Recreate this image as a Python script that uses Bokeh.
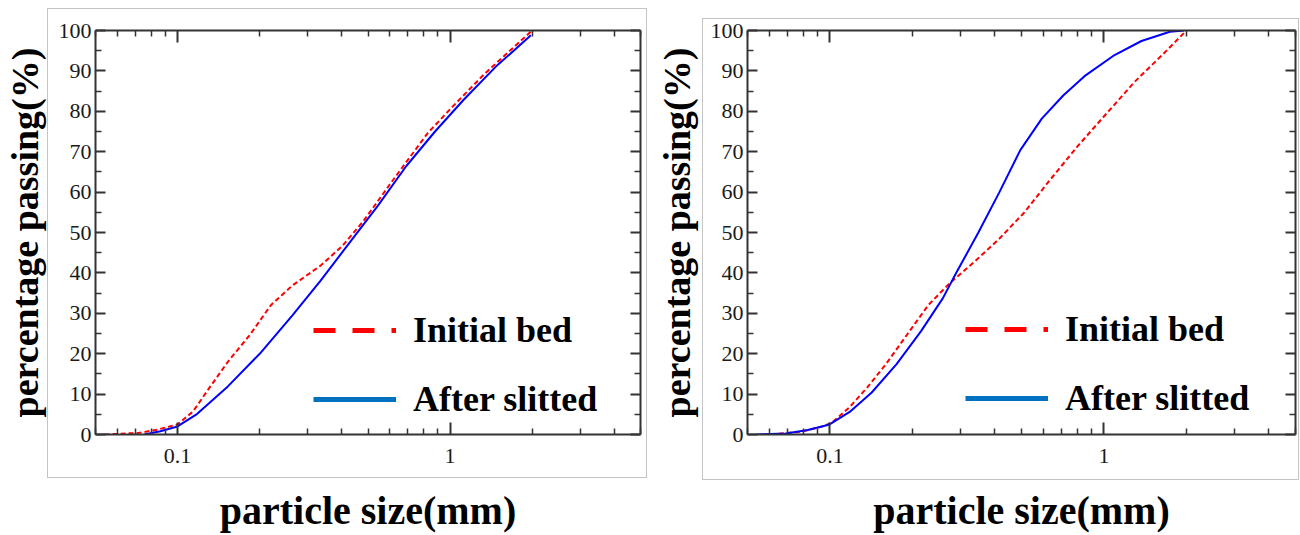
from bokeh.plotting import figure
from bokeh.models import (Range1d, FixedTicker, LogAxis, LinearAxis, CustomJSTickFormatter,
                          Legend, LegendItem)
from bokeh.layouts import row
from bokeh.embed import file_html
from bokeh.resources import INLINE

# ---------------- data ----------------
y_ticks = [0, 10, 20, 30, 40, 50, 60, 70, 80, 90, 100]
y_minor = [5, 15, 25, 35, 45, 55, 65, 75, 85, 95]
x_major = [0.1, 1]
x_minor = [0.05, 0.06, 0.07, 0.08, 0.09, 0.2, 0.3, 0.4, 0.5, 0.6, 0.7, 0.8, 0.9, 2, 3, 4, 5]
x_label = "particle size(mm)"
y_label = "percentage passing(%)"
legend_labels = ["Initial bed", "After slitted"]

left_initial_size = [0.054, 0.072, 0.083, 0.1, 0.114, 0.132, 0.153, 0.184, 0.22, 0.264, 0.335,
                     0.403, 0.482, 0.632, 0.828, 1.02, 1.34, 2.0]
left_initial_pass = [0, 0.4, 1.1, 2.5, 5.7, 11.9, 18, 24.6, 32, 36.9, 41.8, 46.7, 52.9, 63.9,
                     74.6, 81.1, 89.3, 100]
left_after_size = [0.0755, 0.0865, 0.1, 0.117, 0.153, 0.201, 0.264, 0.335, 0.428, 0.543, 0.69,
                   0.881, 1.12, 1.47, 1.98]
left_after_pass = [0, 0.8, 2.0, 4.9, 11.9, 20.1, 29.5, 38.1, 47.5, 56.6, 66.4, 75, 82.8, 91, 98.8]

right_initial_size = [0.065, 0.078, 0.093, 0.102, 0.118, 0.137, 0.16, 0.191, 0.229, 0.273, 0.336,
                      0.414, 0.511, 0.63, 0.8, 1.02, 1.29, 1.64, 2.0]
right_initial_pass = [0.2, 0.65, 1.9, 3, 6.8, 11.7, 17.4, 24.7, 32.1, 37.4, 42.7, 48.4, 54.9,
                      62.7, 71.3, 79.4, 87.2, 94.1, 100]
right_after_size = [0.054, 0.069, 0.083, 0.099, 0.118, 0.142, 0.175, 0.215, 0.258, 0.29, 0.348,
                    0.414, 0.495, 0.593, 0.71, 0.849, 1.08, 1.37, 1.74, 1.96]
right_after_pass = [0, 0.25, 1.1, 2.4, 5.6, 10.4, 17.4, 25.6, 33.7, 40.2, 50, 59.8, 70.4, 78.2,
                    83.9, 88.7, 93.7, 97.4, 99.7, 100]

SERIF = "Liberation Serif"
AX = "#333333"
BOX = "#c4c4c4"


def box_styles(x, y, w, h):
    g = f"linear-gradient({BOX},{BOX})"
    return {
        "background-image": ", ".join([g] * 4),
        "background-repeat": "no-repeat",
        "background-position": f"{x}px {y}px, {x}px {y + h - 1}px, {x}px {y}px, {x + w - 1}px {y}px",
        "background-size": f"{w}px 1px, {w}px 1px, 1px {h}px, 1px {h}px",
    }


def style_axis(ax, show_labels, tick_major, tick_minor):
    ax.axis_line_color = AX
    ax.axis_line_width = 2
    ax.major_tick_line_color = AX
    ax.major_tick_line_width = 2
    ax.minor_tick_line_color = AX
    ax.minor_tick_line_width = 1.5
    ax.major_tick_in = tick_major
    ax.major_tick_out = 0
    ax.minor_tick_in = tick_minor
    ax.minor_tick_out = 0
    if show_labels:
        ax.major_label_text_font = SERIF
        ax.major_label_text_font_size = "22px"
        ax.major_label_text_color = "#1a1a1a"
    else:
        ax.formatter = CustomJSTickFormatter(code="return ''")
        ax.major_label_text_font_size = "0px"
        ax.major_label_standoff = 0


def make_panel(ix, iy, ax_, ay, width, mbl, mbr, mbt, mbb, legend_loc, box):
    p = figure(width=width, height=535, x_axis_type="log",
               x_range=Range1d(0.05, 5), y_range=Range1d(0, 100),
               output_backend="svg", toolbar_location=None,
               min_border_left=mbl, min_border_right=mbr,
               min_border_top=mbt, min_border_bottom=mbb,
               styles=box_styles(*box))
    p.xgrid.visible = False
    p.ygrid.visible = False
    p.outline_line_color = None
    p.background_fill_color = "white"
    p.border_fill_color = None

    xt = FixedTicker(ticks=x_major, minor_ticks=x_minor)
    yt = FixedTicker(ticks=y_ticks, minor_ticks=y_minor)

    xa = p.xaxis[0]
    xa.ticker = xt
    xa.formatter = CustomJSTickFormatter(code="return tick.toString()")
    style_axis(xa, True, 12, 6)
    xa.major_label_standoff = 14
    xa.axis_label = x_label
    xa.axis_label_text_font = SERIF
    xa.axis_label_text_font_style = "bold"
    xa.axis_label_text_font_size = "40px"
    xa.axis_label_text_color = "black"
    xa.axis_label_standoff = 22

    ya = p.yaxis[0]
    ya.ticker = yt
    style_axis(ya, True, 10, 6)
    ya.major_label_standoff = 4
    ya.axis_label = y_label
    ya.axis_label_text_font = SERIF
    ya.axis_label_text_font_style = "bold"
    ya.axis_label_text_font_size = "38px"
    ya.axis_label_text_color = "black"
    ya.axis_label_standoff = 10

    top = LogAxis(ticker=FixedTicker(ticks=x_major, minor_ticks=x_minor))
    style_axis(top, False, 12, 6)
    p.add_layout(top, "above")
    right = LinearAxis(ticker=FixedTicker(ticks=y_ticks, minor_ticks=y_minor))
    style_axis(right, False, 10, 6)
    p.add_layout(right, "right")

    p.line(ix, iy, line_color="#ff0000", line_width=2, line_dash="5 3")
    p.line(ax_, ay, line_color="#0000ff", line_width=2)

    # legend samples (styled as in the original key)
    r1 = p.line(ix, iy, line_color="#ff0000", line_width=5, line_dash="22 17", visible=False)
    r2 = p.line(ax_, ay, line_color="#0070c0", line_width=5, visible=False)
    leg = Legend(items=[LegendItem(label=legend_labels[0], renderers=[r1]),
                        LegendItem(label=legend_labels[1], renderers=[r2])],
                 location=legend_loc, glyph_width=83, glyph_height=40, label_height=40,
                 label_standoff=17, spacing=27, padding=0, margin=0,
                 border_line_color=None, background_fill_alpha=0,
                 inactive_fill_alpha=0,
                 label_text_font=SERIF, label_text_font_style="bold",
                 label_text_font_size="36px", label_text_color="black",
                 click_policy="none")
    p.add_layout(leg)
    return p


p1 = make_panel(left_initial_size, left_initial_pass, left_after_size, left_after_pass,
                652, 92, 12, 30, 98, (218, 14), (47, 8, 600, 470))
p2 = make_panel(right_initial_size, right_initial_pass, right_after_size, right_after_pass,
                648, 93, 5, 29, 97, (218, 15), (50, 18, 597, 462))

layout = row(p1, p2)
open("out.html", "w").write(file_html(layout, INLINE))
